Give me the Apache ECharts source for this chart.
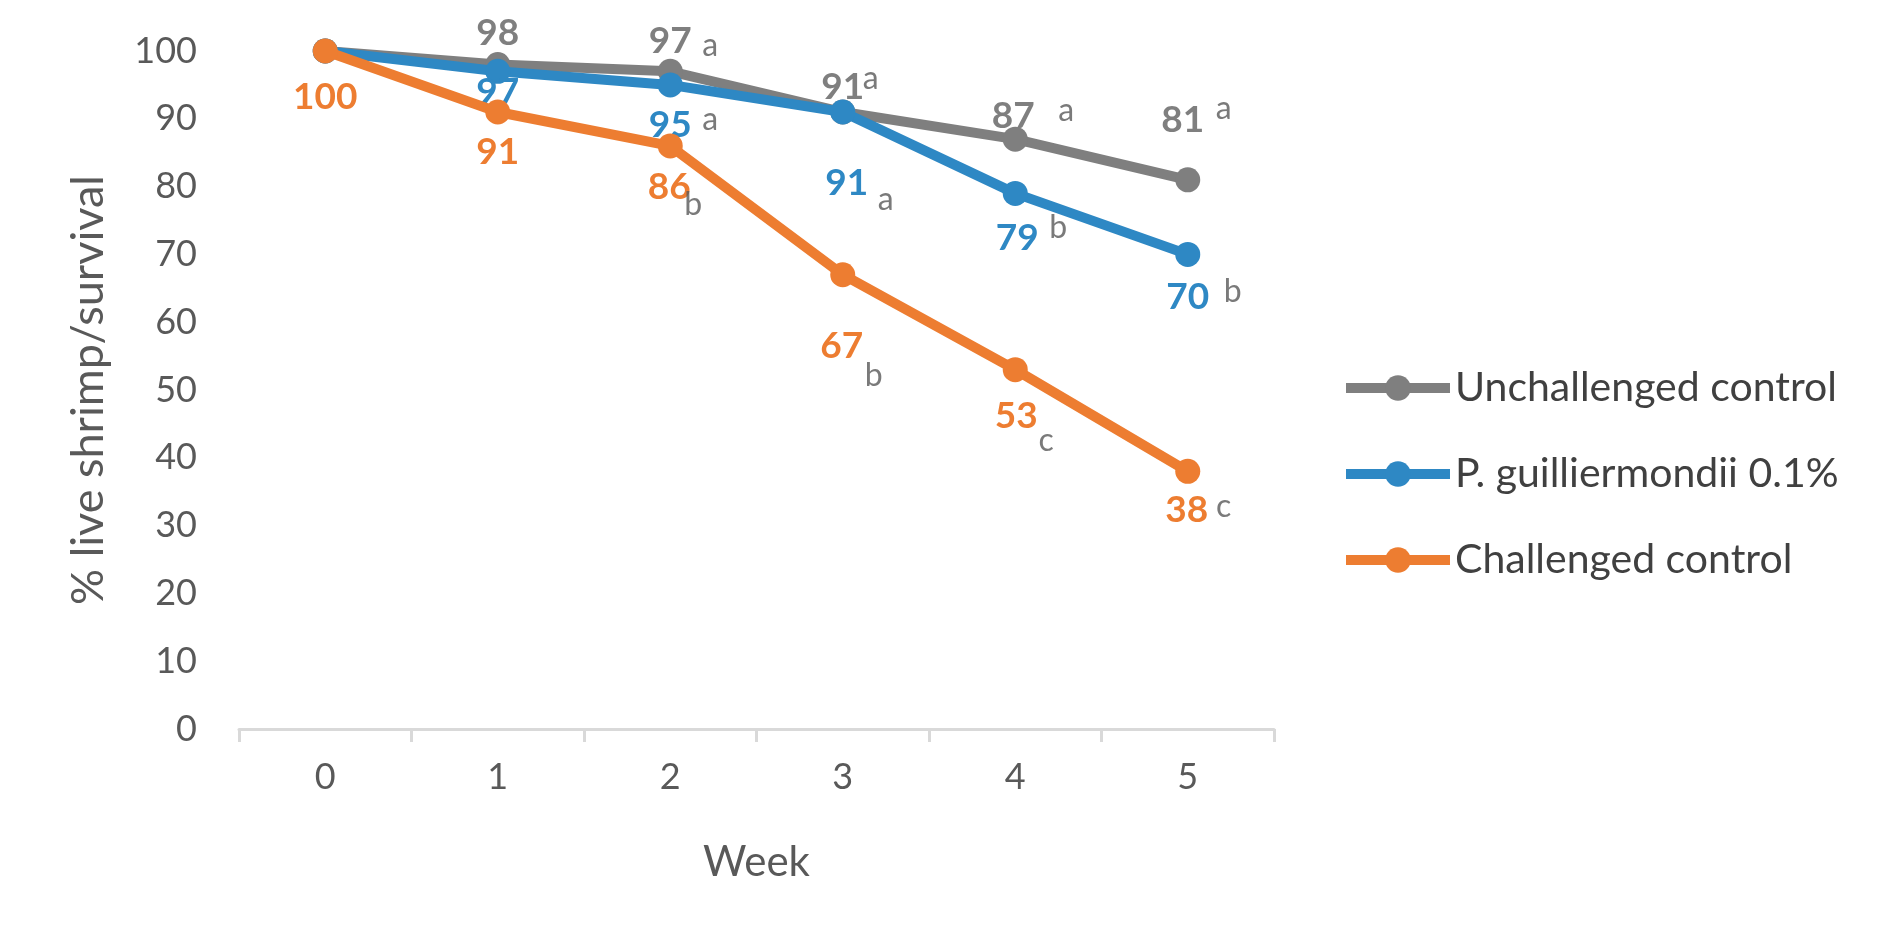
<!DOCTYPE html>
<html>
<head>
<meta charset="utf-8">
<script src="https://cdn.jsdelivr.net/npm/echarts@6/dist/echarts.min.js"></script>
<style>
html,body{margin:0;padding:0;background:#fff;}
#chart{width:1890px;height:938px;}
</style>
</head>
<body>
<div id="chart"></div>
<script>
// ---- data ----
const weeks = ['0', '1', '2', '3', '4', '5'];
const seriesNames = ['Unchallenged control', 'P. guilliermondii 0.1%', 'Challenged control'];
const unchallenged = [100, 98, 97, 91, 87, 81];
const guilliermondii = [100, 97, 95, 91, 79, 70];
const challenged = [100, 91, 86, 67, 53, 38];
const lettersUnchallenged = ['', '', 'a', 'a', 'a', 'a'];
const lettersGuilliermondii = ['', '', 'a', 'a', 'b', 'b'];
const lettersChallenged = ['', '', 'b', 'b', 'c', 'c'];
const yTicks = [0, 10, 20, 30, 40, 50, 60, 70, 80, 90, 100];

// ---- label layout (styling, not data) ----
const showValue = [
  [false, true, true, true, true, true],
  [false, true, true, true, true, true],
  [true, true, true, true, true, true]
];
const valueOffsets = [
  [[0,-31],[0,-31],[0,-30],[0,-25],[-2,-23],[-5,-60]],
  [[0,20],[0,21],[0,40],[4,71],[2,45],[0,43]],
  [[0,46],[0,40],[-1,41],[-1,71],[1,46],[-1,39]]
];
const letterOffsets = [
  [[0,0],[0,0],[40,-26],[28,-33],[51,-28],[36,-71]],
  [[0,0],[0,0],[40,35],[43,88],[43,34],[45,37]],
  [[0,0],[0,0],[23,59],[31,101],[31,71],[36,35]]
];
const colors = ['#7f7f7f', '#2e88c4', '#ed7d31'];
const labelColors = ['#7f7f7f', '#2e88c4', '#ed7d31'];
const FONT = 'Lato';

const values = [unchallenged, guilliermondii, challenged];
const letters = [lettersUnchallenged, lettersGuilliermondii, lettersChallenged];

const series = [];
values.forEach((vals, s) => {
  series.push({
    name: seriesNames[s],
    type: 'line',
    data: vals.map((v, i) => ({
      value: v,
      label: {
        show: showValue[s][i],
        offset: valueOffsets[s][i]
      }
    })),
    symbol: 'circle',
    symbolSize: 25,
    showAllSymbol: true,
    lineStyle: { width: 10, color: colors[s] },
    itemStyle: { color: colors[s] },
    label: {
      position: 'inside',
      align: 'center',
      verticalAlign: 'middle',
      fontFamily: FONT,
      fontWeight: 'bold',
      fontSize: 37,
      color: labelColors[s],
      formatter: p => String(p.value)
    },
    emphasis: { disabled: true },
    z: 2 + s
  });
});
values.forEach((vals, s) => {
  series.push({
    name: 'letters' + s,
    type: 'scatter',
    data: vals.map((v, i) => ({
      value: v,
      label: {
        show: letters[s][i] !== '',
        offset: letterOffsets[s][i],
        formatter: letters[s][i]
      }
    })),
    symbol: 'circle',
    symbolSize: 1,
    itemStyle: { color: 'rgba(0,0,0,0)' },
    label: {
      position: 'inside',
      align: 'center',
      verticalAlign: 'middle',
      fontFamily: FONT,
      fontSize: 32,
      color: '#595959'
    },
    silent: true,
    emphasis: { disabled: true },
    z: 10
  });
});

const chart = echarts.init(document.getElementById('chart'));
chart.setOption({
  animation: false,
  backgroundColor: '#ffffff',
  grid: { left: 239, right: 616, top: 51, bottom: 209, containLabel: false },
  legend: {
    data: seriesNames,
    orient: 'vertical',
    left: 1336,
    top: 362,
    itemWidth: 104,
    itemHeight: 32,
    itemGap: 44,
    lineStyle: { width: 10 },
    textStyle: { fontFamily: FONT, fontSize: 41, color: '#404040', lineHeight: 42 }
  },
  xAxis: {
    type: 'category',
    data: weeks,
    boundaryGap: true,
    name: 'Week',
    nameLocation: 'middle',
    nameGap: 112,
    nameTextStyle: { fontFamily: FONT, fontSize: 42, color: '#595959' },
    axisLine: { lineStyle: { color: '#d9d9d9', width: 3 } },
    axisTick: { show: true, length: 13, lineStyle: { color: '#d9d9d9', width: 3 } },
    axisLabel: { fontFamily: FONT, fontSize: 36, color: '#595959', margin: 30 }
  },
  yAxis: {
    type: 'value',
    min: 0,
    max: 100,
    interval: 10,
    name: '% live shrimp/survival',
    nameLocation: 'middle',
    nameGap: 128,
    nameTextStyle: { fontFamily: FONT, fontSize: 45, color: '#595959' },
    axisLine: { show: false },
    axisTick: { show: false },
    splitLine: { show: false },
    axisLabel: {
      fontFamily: FONT, fontSize: 36, color: '#595959', margin: 42,
      formatter: v => yTicks.includes(v) ? String(v) : ''
    }
  },
  series: series
});
</script>
</body>
</html>
